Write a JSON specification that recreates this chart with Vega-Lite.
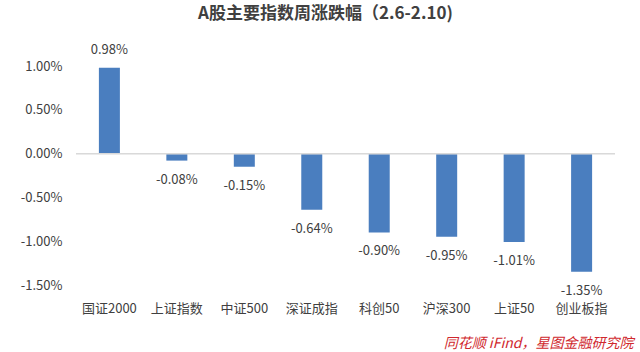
{
  "$schema": "https://vega.github.io/schema/vega-lite/v6.json",
  "autosize": "none",
  "width": 539,
  "height": 219,
  "padding": {"left": 76, "top": 66, "right": 25, "bottom": 67},
  "background": "white",
  "config": {
    "view": {"stroke": null},
    "font": "Noto Sans CJK SC",
    "locale": {"number": {"decimal": ".", "thousands": ",", "grouping": [3], "currency": ["$", ""], "minus": "-"}}
  },
  "title": {"text": "A股主要指数周涨跌幅（2.6-2.10)", "fontSize": 17, "fontWeight": "bold", "color": "#404040", "anchor": "middle", "dx": -20, "offset": 21},
  "data": {"values": [
    {"name": "国证2000", "value": 0.0098},
    {"name": "上证指数", "value": -0.0008},
    {"name": "中证500", "value": -0.0015},
    {"name": "深证成指", "value": -0.0064},
    {"name": "科创50", "value": -0.0090},
    {"name": "沪深300", "value": -0.0095},
    {"name": "上证50", "value": -0.0101},
    {"name": "创业板指", "value": -0.0135}
  ]},
  "encoding": {
    "x": {"field": "name", "type": "nominal", "sort": null,
      "scale": {"paddingInner": 0.67, "paddingOuter": 0.33},
      "axis": {"domain": false, "ticks": false, "labelAngle": 0, "labelFontSize": 13, "labelColor": "#404040", "labelPadding": 17,
        "title": "同花顺 iFind，星图金融研究院", "titleAnchor": "end", "titleColor": "#d0282e", "titleFontStyle": "italic", "titleFontWeight": "normal", "titleFontSize": 14, "titleX": 557, "titleY": 58, "titleBaseline": "middle", "titleAlign": "right"}},
    "y": {"field": "value", "type": "quantitative",
      "scale": {"domain": [-0.015, 0.010], "nice": false, "zero": false},
      "axis": {"values": [-0.015, -0.01, -0.005, 0, 0.005, 0.01], "format": ".2%", "domain": false, "ticks": false, "grid": false, "labelFontSize": 13, "labelColor": "#404040", "labelPadding": 14, "title": null}}
  },
  "layer": [
    {"mark": {"type": "bar", "color": "#4a7ebf", "size": 21}},
    {"mark": {"type": "rule", "color": "#d9d9d9", "strokeWidth": 1}, "encoding": {"x": null, "y": {"datum": 0}}},
    {"transform": [{"filter": "datum.value >= 0"}],
      "mark": {"type": "text", "fontSize": 13, "color": "#404040", "baseline": "middle", "dy": -18},
      "encoding": {"text": {"field": "value", "type": "quantitative", "format": ".2%"}}
    },
    {"transform": [{"filter": "datum.value < 0"}],
      "mark": {"type": "text", "fontSize": 13, "color": "#404040", "baseline": "middle", "dy": 19},
      "encoding": {"text": {"field": "value", "type": "quantitative", "format": ".2%"}}
    }
  ]
}
